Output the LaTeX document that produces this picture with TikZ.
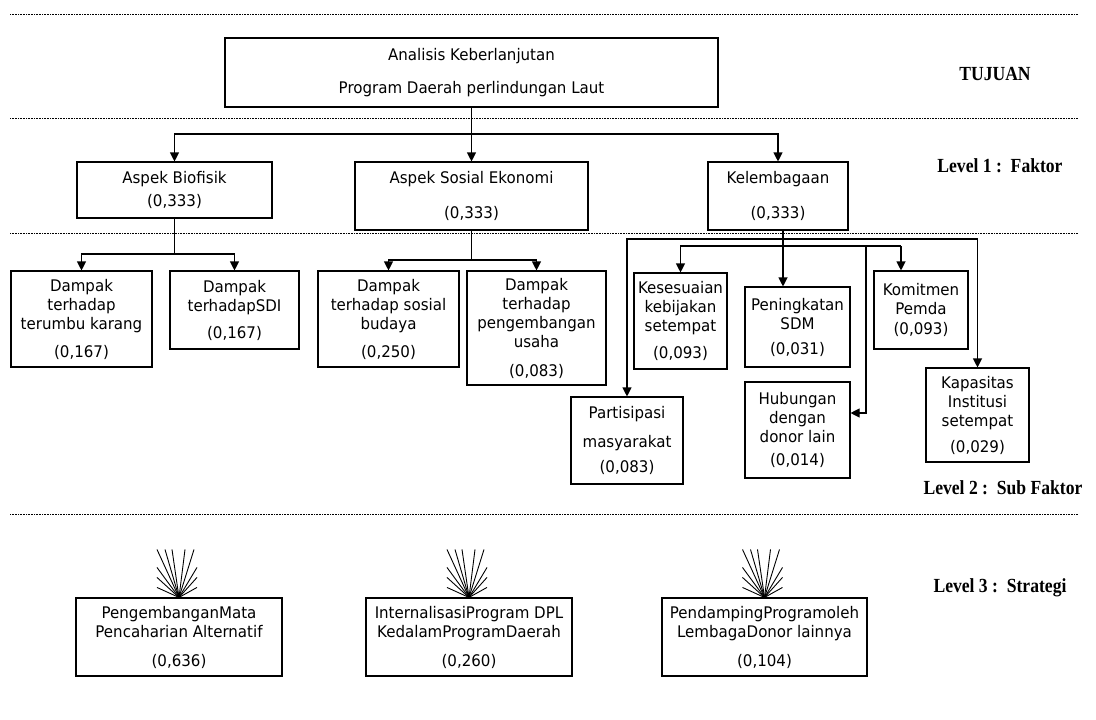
\documentclass[tikz,border=0pt]{standalone}
\usepackage{fontspec}
\setmainfont{DejaVu Sans}[FakeStretch=0.94]
\newfontfamily\lvlfont{Liberation Serif}[FakeStretch=0.88]
\usetikzlibrary{arrows.meta}
\usetikzlibrary{calc}
\newcommand{\sepxl}{10}
\newcommand{\sepxr}{1078}
\tikzset{
  box/.style={draw, line width=1.1pt, align=center, inner sep=0pt,
    font=\fontsize{16}{19}\selectfont},
  lvl/.style={font=\lvlfont\bfseries\fontsize{20}{22}\selectfont},
  sep/.style={densely dotted, line width=0.6pt},
  con/.style={line width=1.1pt},
  arr/.style={con, -{Triangle[length=9pt,width=9pt]}},
  fan/.style={line width=0.9pt},
}

\begin{document}
\begin{tikzpicture}[x=1pt, y=-1pt]

    \useasboundingbox (0,0) rectangle (1096,720);

    \foreach \y in {14,118,233,514}
      \draw [sep] (\sepxl,\y) -- (\sepxr,\y);

    \node [lvl] (tujuan) at (995,74) {TUJUAN};
    \node [lvl] (lvla) at (1000,166) {Level 1 :\ \ Faktor};
    \node [lvl] (lvlb) at (1003,488) {Level 2 :\ \ Sub Faktor};
    \node [lvl] (lvlc) at (1000,588) {Level 3 :\ \ Strategi};

    \node [box, minimum width=493, minimum height=69] (goal) at (471.5,72.5)
      {Analisis Keberlanjutan\\[14pt]Program Daerah perlindungan Laut};

    \node [box, minimum width=195, minimum height=56] (bio) at (174.5,190)
      {Aspek Biofisik\\[4pt](0,333)};
    \node [box, minimum width=233, minimum height=68] (sos) at (471.5,196)
      {Aspek Sosial Ekonomi\\[16pt](0,333)};
    \node [box, minimum width=140, minimum height=68] (kel) at (778,196)
      {Kelembagaan\\[16pt](0,333)};

    \node [box, minimum width=141, minimum height=96] (karang) at (81.5,319)
      {Dampak\\terhadap\\terumbu karang\\[9pt](0,167)};
    \node [box, minimum width=129, minimum height=78] (sdi) at (234.5,310)
      {Dampak\\terhadapSDI\\[8pt](0,167)};
    \node [box, minimum width=141, minimum height=96] (budaya) at (388.5,319)
      {Dampak\\terhadap sosial\\budaya\\[9pt](0,250)};
    \node [box, minimum width=139, minimum height=114] (usaha) at (536.5,328)
      {Dampak\\terhadap\\pengembangan\\usaha\\[10pt](0,083)};

    \node [box, minimum width=93, minimum height=96] (kes) at (680.5,321)
      {Kesesuaian\\kebijakan\\setempat\\[8pt](0,093)};
    \node [box, minimum width=105, minimum height=80] (sdm) at (797.5,327)
      {Peningkatan\\SDM\\[6pt](0,031)};
    \node [box, minimum width=94, minimum height=78] (pemda) at (921,310)
      {Komitmen\\Pemda\\[1pt](0,093)};
    \node [box, minimum width=112, minimum height=87] (par) at (627,440.5)
      {Partisipasi\\[10pt]masyarakat\\[6pt](0,083)};
    \node [box, minimum width=105, minimum height=96] (donor) at (797.5,430)
      {Hubungan\\dengan\\donor lain\\[4pt](0,014)};
    \node [box, minimum width=103, minimum height=94] (kap) at (977.5,415)
      {Kapasitas\\Institusi\\setempat\\[7pt](0,029)};

    \node [box, minimum width=206, minimum height=78] (mata) at (179,637)
      {PengembanganMata\\Pencaharian Alternatif\\[10pt](0,636)};
    \node [box, minimum width=206, minimum height=78] (dpl) at (469,637)
      {InternalisasiProgram DPL\\KedalamProgramDaerah\\[10pt](0,260)};
    \node [box, minimum width=205, minimum height=78] (lembaga) at (764.5,637)
      {PendampingProgramoleh\\LembagaDonor lainnya\\[10pt](0,104)};

    % level 1
    \coordinate (ja) at (471.5,134);
    \draw [arr] (goal.south) -- (sos.north);
    \draw [arr] (ja) -| (bio.north);
    \draw [arr] (ja) -| (kel.north);

    % level 2
    \coordinate (jb) at (174.5,254);
    \draw [con] (bio.south) -- (jb);
    \draw [arr] (jb) -| (karang.north);
    \draw [arr] (jb) -| (sdi.north);

    \coordinate (jc) at (471.5,260);
    \draw [con] (sos.south) -- (jc);
    \draw [arr] (jc) -| (budaya.north);
    \draw [arr] (jc) -| (usaha.north);

    \coordinate (kstem) at (783,230);
    \coordinate (kout) at (783,239);
    \coordinate (kin) at (783,246);
    \coordinate (kpem) at (901,246);
    \coordinate (kdon) at (866,246);
    \draw [arr] (kstem) -- (kstem |- sdm.north);
    \draw [arr] (kout) -| (par.north);
    \draw [arr] (kout) -| (kap.north);
    \draw [arr] (kin) -| (kes.north);
    \draw [con] (kin) -- (kpem);
    \draw [arr] (kpem) -- (kpem |- pemda.north);
    \draw [arr] (kdon) |- ($(donor.east)+(0,-17)$);

    % level 3
    \foreach \s in {mata,dpl,lembaga}
      \foreach \dx/\dy in {-22/-48,-14/-48,-7/-48,6/-48,15/-48,
                           -22/-30,-22/-20,-22/-10,18/-30,18/-20,18/-10} {
        \coordinate (ft) at ($(\s.north)+(\dx,\dy)$);
        \draw [fan] (ft) -- (\s.north);
      }

\end{tikzpicture}
\end{document}
